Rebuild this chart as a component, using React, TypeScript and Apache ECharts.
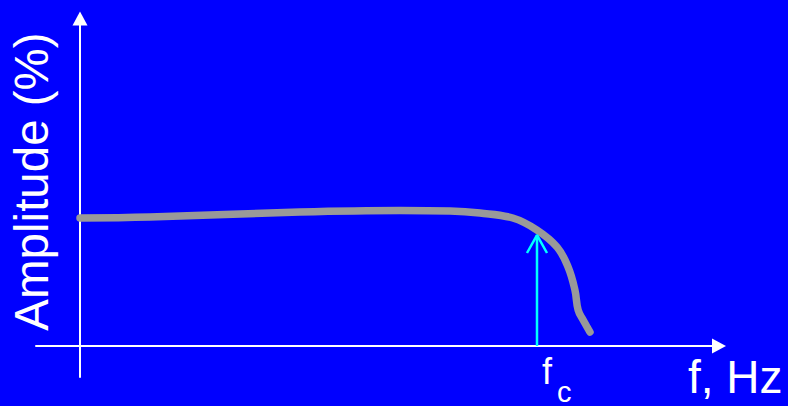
import React, { useEffect, useRef } from "react";
import * as echarts from "echarts";

// Frequency response curve (frequency in Hz-like units, fc = 100)
const freqHz = [0, 15.3, 48.1, 70.0, 81.0, 87.5, 94.7, 100, 104.4, 106.8, 108.3, 109.0, 110.1, 111.6];
const amplitudePct = [100, 100.8, 104.7, 105.9, 105.5, 103.9, 100, 90.6, 77.3, 61.7, 43.75, 28.1, 20.3, 10.9];

// Cutoff-frequency marker
const cutoffFreq = 100;
const cutoffArrowTop = 86.7;
const cutoffHeadBase = 72.66;
const cutoffHeadHalfWidth = 2.19;

// Axis extents
const xMin = -9.628;
const xMax = 139.825;
const yMin = -24.22;
const yMax = 255.86;

const yTitle = "Amplitude (%)";
const xTitle = "f, Hz";
const fcMain = "f";
const fcSub = "c";

const FONT = "Arial, 'Liberation Sans', Helvetica, sans-serif";

export default function App() {
  const ref = useRef<HTMLDivElement>(null);

  useEffect(() => {
    if (!ref.current) return;
    const chart = echarts.init(ref.current, undefined, { renderer: "svg" });
    const curve = freqHz.map((f, i) => [f, amplitudePct[i]]);
    const shaft = [
      [cutoffFreq, 0],
      [cutoffFreq, cutoffArrowTop],
    ];
    const head = [
      [cutoffFreq - cutoffHeadHalfWidth, cutoffHeadBase],
      [cutoffFreq, cutoffArrowTop],
      [cutoffFreq + cutoffHeadHalfWidth, cutoffHeadBase],
    ];
    const axisCommon = {
      type: "value" as const,
      axisLabel: { show: false },
      axisTick: { show: false },
      splitLine: { show: false },
    };
    chart.setOption({
      animation: false,
      backgroundColor: "#0000FF",
      grid: { left: 36, right: 69, top: 18.5, bottom: 29 },
      xAxis: {
        ...axisCommon,
        min: xMin,
        max: xMax,
        axisLine: {
          onZero: true,
          symbol: ["none", "triangle"],
          symbolSize: [15, 14],
          lineStyle: { color: "#FFFFFF", width: 2 },
        },
      },
      yAxis: {
        ...axisCommon,
        min: yMin,
        max: yMax,
        axisLine: {
          onZero: true,
          symbol: ["none", "triangle"],
          symbolSize: [15, 14],
          lineStyle: { color: "#FFFFFF", width: 2 },
        },
      },
      series: [
        {
          type: "line",
          name: "response",
          data: curve,
          smooth: 0.4,
          showSymbol: false,
          lineStyle: { color: "#999999", width: 7.5, cap: "round", join: "round" },
          z: 3,
        },
        {
          type: "line",
          name: "fcShaft",
          data: shaft,
          showSymbol: false,
          lineStyle: { color: "#00FFFF", width: 2.5 },
          z: 4,
        },
        {
          type: "line",
          name: "fcHead",
          data: head,
          showSymbol: false,
          lineStyle: { color: "#00FFFF", width: 2.5 },
          z: 4,
        },
      ],
      graphic: [
        {
          type: "text",
          x: 31,
          y: 181.5,
          rotation: Math.PI / 2,
          style: {
            text: yTitle,
            fill: "#FFFFFF",
            font: `47.5px ${FONT}`,
            textAlign: "center",
            textVerticalAlign: "middle",
          },
        },
        {
          type: "text",
          x: 688,
          y: 377.1,
          style: {
            text: xTitle,
            fill: "#FFFFFF",
            font: `46px ${FONT}`,
            textAlign: "left",
            textVerticalAlign: "middle",
          },
        },
        {
          type: "text",
          x: 542,
          y: 371.9,
          style: {
            text: fcMain,
            fill: "#FFFFFF",
            font: `36px ${FONT}`,
            textAlign: "left",
            textVerticalAlign: "middle",
          },
        },
        {
          type: "text",
          x: 557,
          y: 391.5,
          style: {
            text: fcSub,
            fill: "#FFFFFF",
            font: `29px ${FONT}`,
            textAlign: "left",
            textVerticalAlign: "middle",
          },
        },
      ],
    });
    return () => chart.dispose();
  }, []);

  return (
    <div
      ref={ref}
      style={{ position: "fixed", left: 0, top: 0, width: 788, height: 406 }}
    />
  );
}
